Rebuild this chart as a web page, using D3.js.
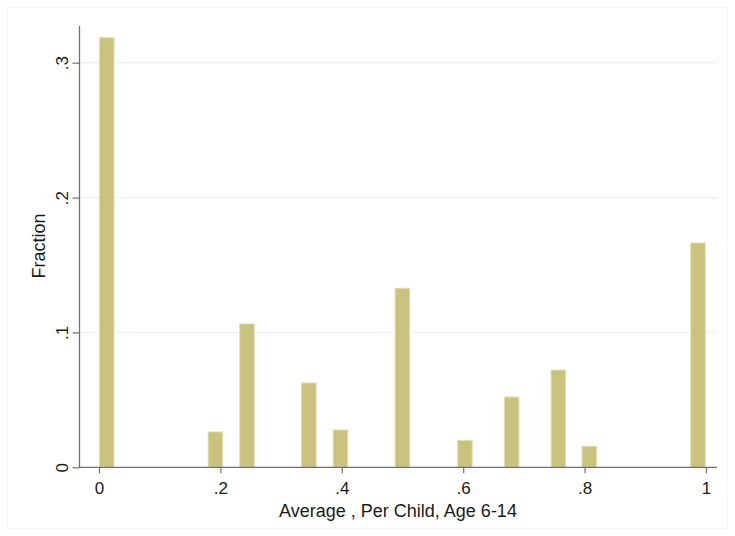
<!DOCTYPE html>
<html>
<head>
<meta charset="utf-8">
<script src="https://cdn.jsdelivr.net/npm/d3@7"></script>
<style>
  body { margin: 0; background: #fff; }
  text { font-family: "Liberation Sans", Arial, sans-serif; fill: #1a1a1a; }
</style>
</head>
<body>
<script>
// svg size
var w = 735;
var h = 536;

// histogram bins: lower edge of each non-empty bin and its fraction
var binWidth = 1 / 39;
var binStarts = [0, 0.179, 0.231, 0.333, 0.385, 0.487, 0.590, 0.667, 0.744, 0.795, 0.974];
var fractions = [0.3185, 0.0262, 0.1063, 0.0625, 0.0277, 0.1327, 0.0200, 0.0521, 0.0721, 0.0156, 0.1663];

// axis ticks
var xTicks = [0, 0.2, 0.4, 0.6, 0.8, 1];
var xTickLabels = ["0", ".2", ".4", ".6", ".8", "1"];
var yTicks = [0, 0.1, 0.2, 0.3];
var yTickLabels = ["0", ".1", ".2", ".3"];

var xTitle = "Average , Per Child, Age 6-14";
var yTitle = "Fraction";

// builds the bins as objects for the data join
function makeBins() {
  var bins = [];
  for (var i = 0; i < binStarts.length; i++) {
    bins.push({x0: binStarts[i], x1: binStarts[i] + binWidth, value: fractions[i]});
  }
  return bins;
}

window.onload = function() {
  var svg = d3.select("body")
              .append("svg")
              .attr("width", w)
              .attr("height", h);

  // faint outer frame
  svg.append("rect")
     .attr("x", 7.5).attr("y", 7.5)
     .attr("width", w - 15).attr("height", h - 15)
     .attr("fill", "none")
     .attr("stroke", "#f6f6f6");

  var xScale = d3.scaleLinear().domain([0, 1]).range([99, 706]);
  var yScale = d3.scaleLinear().domain([0, 0.3]).range([467.3, 62.7]);

  // gridlines
  svg.append("g")
     .selectAll("line")
     .data(yTicks.slice(1))
     .enter()
     .append("line")
     .attr("x1", 80).attr("x2", 717)
     .attr("y1", d => yScale(d)).attr("y2", d => yScale(d))
     .attr("stroke", "#eaf2f3")
     .attr("stroke-width", 1.2);

  // bars
  svg.append("g")
     .selectAll("rect")
     .data(makeBins())
     .enter()
     .append("rect")
     .attr("x", d => xScale(d.x0) + 0.5)
     .attr("width", d => xScale(d.x1) - xScale(d.x0) - 1)
     .attr("y", d => yScale(d.value))
     .attr("height", d => yScale(0) - yScale(d.value))
     .attr("fill", "#cac27f")
     .attr("stroke", "#e2ddb0")
     .attr("stroke-width", 1);

  // y axis
  var yAxis = svg.append("g")
     .attr("transform", "translate(79.5,0)")
     .call(d3.axisLeft(yScale)
             .tickValues(yTicks)
             .tickSize(7)
             .tickFormat((d, i) => yTickLabels[i]));
  yAxis.select(".domain").attr("d", "M0,26V" + yScale(0)).attr("stroke", "#707070").attr("stroke-width", 1.3);
  yAxis.selectAll(".tick line").attr("stroke", "#707070").attr("stroke-width", 1.2);
  yAxis.selectAll(".tick text")
       .attr("x", 0).attr("dy", 0)
       .attr("transform", "translate(-12,0) rotate(-90)")
       .attr("text-anchor", "middle")
       .style("font-size", "17px")
       .style("fill", "#1a1a1a");

  // x axis
  var xAxis = svg.append("g")
     .attr("transform", "translate(0," + yScale(0) + ")")
     .call(d3.axisBottom(xScale)
             .tickValues(xTicks)
             .tickSize(6)
             .tickFormat((d, i) => xTickLabels[i]));
  xAxis.select(".domain").attr("d", "M79,0H717").attr("stroke", "#707070").attr("stroke-width", 1.3);
  xAxis.selectAll(".tick line").attr("stroke", "#707070").attr("stroke-width", 1.2);
  xAxis.selectAll(".tick text")
       .attr("y", 15)
       .style("font-size", "17px")
       .style("fill", "#1a1a1a");

  // axis titles
  svg.append("text")
     .attr("x", 398)
     .attr("y", 517)
     .attr("text-anchor", "middle")
     .style("font-size", "18px")
     .text(xTitle);

  svg.append("text")
     .attr("transform", "rotate(-90)")
     .attr("x", -246)
     .attr("y", 45)
     .attr("text-anchor", "middle")
     .style("font-size", "18px")
     .text(yTitle);
};
</script>
</body>
</html>
